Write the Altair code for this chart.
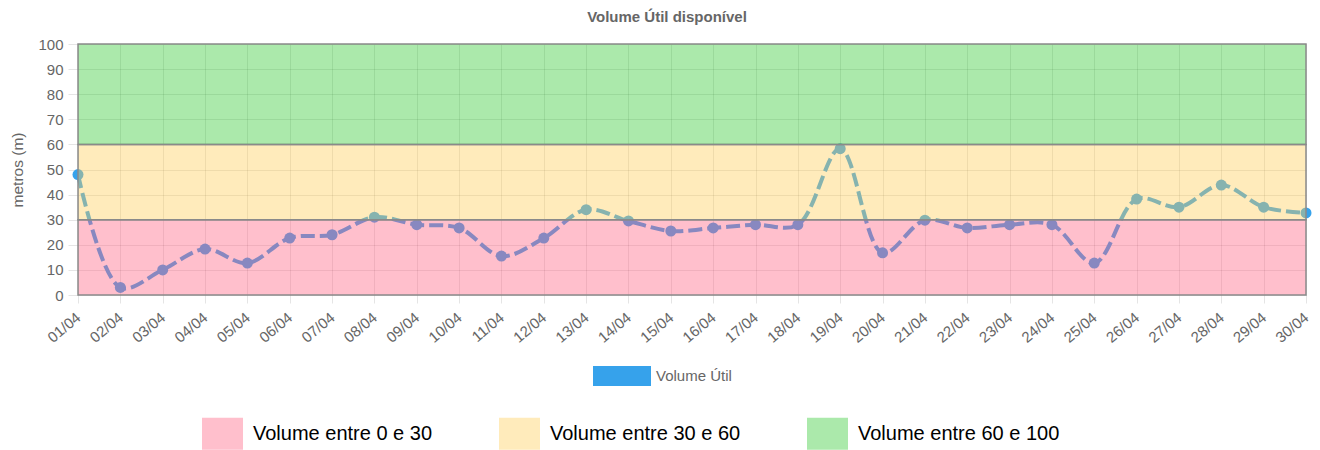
import altair as alt
import pandas as pd

# ---- data ----
dias = ["01/04", "02/04", "03/04", "04/04", "05/04", "06/04", "07/04", "08/04", "09/04", "10/04",
        "11/04", "12/04", "13/04", "14/04", "15/04", "16/04", "17/04", "18/04", "19/04", "20/04",
        "21/04", "22/04", "23/04", "24/04", "25/04", "26/04", "27/04", "28/04", "29/04", "30/04"]
volume = [48, 3, 10, 18.3, 12.7, 22.7, 24, 31, 28, 26.7,
          15.5, 22.7, 34, 29.5, 25.5, 26.7, 28, 28, 58.3, 16.8,
          29.8, 26.7, 28, 28, 12.7, 38.2, 35, 43.8, 35, 32.7]
serie = ["Volume Útil"]
serie_cor = ["#36a2eb"]

faixas = ["Volume entre 0 e 30", "Volume entre 30 e 60", "Volume entre 60 e 100"]
faixa_min = [0, 30, 60]
faixa_max = [30, 60, 100]
faixa_cores = ["rgba(255, 99, 132, 0.41)", "rgba(255, 206, 86, 0.4)", "rgba(45, 200, 45, 0.4)"]

y_ticks = [0, 10, 20, 30, 40, 50, 60, 70, 80, 90, 100]

# ---- tables ----
df = pd.DataFrame({"dia": dias, "volume": volume, "serie": serie * len(dias)})
bands = pd.DataFrame({"faixa": faixas, "min": faixa_min, "max": faixa_max,
                      "inicio": [dias[0]] * 3, "fim": [dias[-1]] * 3})

FONT = "Liberation Sans"
GRID = "rgba(0,0,0,0.1)"
TXT = "#666666"
W, H = 1228, 251

xscale = alt.Scale(type="point", domain=dias, padding=0, range=[0, W])
yscale = alt.Scale(domain=[0, 100], nice=False)

xaxis = alt.Axis(title=None, labelAngle=-40, labelAlign="right", labelBaseline="middle",
                 labelFontSize=15, labelColor=TXT, labelPadding=12, tickSize=8,
                 tickColor=GRID, gridColor=GRID, grid=True, domain=False, labelOverlap=False)
yaxis = alt.Axis(title="metros (m)", values=y_ticks, labelFontSize=15, labelColor=TXT,
                 labelPadding=5, tickSize=10, tickColor=GRID, gridColor=GRID, grid=True,
                 domain=False, titleFontSize=15.5, titleColor=TXT, titleFontWeight="normal",
                 titlePadding=12, labelOverlap=False)

line = alt.Chart(df).mark_line(
    interpolate="catmull-rom", strokeDash=[14, 5], strokeWidth=4, color="#36a2eb"
).encode(
    x=alt.X("dia:N", scale=xscale, axis=xaxis),
    y=alt.Y("volume:Q", scale=yscale, axis=yaxis),
)

points = alt.Chart(df).mark_circle(size=121, opacity=1).encode(
    x=alt.X("dia:N", scale=xscale, axis=xaxis),
    y=alt.Y("volume:Q", scale=yscale, axis=yaxis),
    fill=alt.Fill("serie:N", scale=alt.Scale(domain=serie, range=serie_cor),
                  legend=alt.Legend(title=None, orient="none", legendX=515, legendY=303,
                                    direction="horizontal", padding=0,
                                    symbolType="M-1,-0.345L1,-0.345L1,0.345L-1,0.345Z",
                                    symbolSize=3364, symbolStrokeWidth=0, symbolOpacity=1,
                                    labelFontSize=15, labelColor=TXT, labelOffset=5,
                                    labelFont=FONT)),
)

rects = alt.Chart(bands).mark_rect(stroke="#8a8a8a", strokeWidth=1.5).encode(
    x=alt.X("inicio:N", scale=xscale, axis=xaxis),
    x2="fim:N",
    y=alt.Y("min:Q", scale=yscale, axis=yaxis),
    y2="max:Q",
    fill=alt.Fill("faixa:N", scale=alt.Scale(domain=faixas, range=faixa_cores),
                  legend=alt.Legend(title=None, orient="none", legendX=124, legendY=369,
                                    direction="horizontal", padding=0, columnPadding=66,
                                    symbolType="M-1,-0.78L1,-0.78L1,0.78L-1,0.78Z",
                                    symbolSize=1681, symbolStrokeWidth=0, symbolOpacity=1,
                                    labelFontSize=20, labelColor="#000000", labelOffset=10,
                                    labelLimit=400, labelFont=FONT)),
)

chart = alt.layer(line, points, rects).resolve_scale(fill="independent").properties(
    width=W,
    height=H,
    autosize=alt.AutoSizeParams(type="none"),
    padding={"left": 70, "top": 36, "right": 6, "bottom": 155},
    title=alt.TitleParams("Volume Útil disponível", fontSize=15, fontWeight="bold",
                          color=TXT, font=FONT, anchor="middle", dx=-25, offset=12),
).configure(font=FONT).configure_view(strokeWidth=0)

chart.save("out.html", embed_options={"renderer": "svg", "actions": False})
